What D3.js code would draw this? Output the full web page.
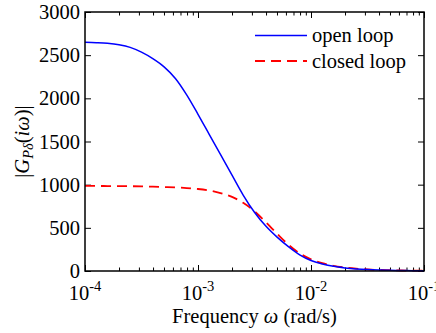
<!DOCTYPE html>
<html>
<head>
<meta charset="utf-8">
<script src="https://cdn.jsdelivr.net/npm/d3@7"></script>
<style>
  body { margin: 0; background: #fff; }
  text { font-family: "Liberation Serif", "Times New Roman", serif; fill: #000; }
</style>
</head>
<body>
<svg id="chart"></svg>
<script>
// frequency (rad/s)
const freq = [1.00e-4, 1.26e-4, 1.58e-4, 2.00e-4, 2.51e-4, 3.16e-4, 3.98e-4, 5.01e-4, 6.31e-4, 7.94e-4,
              1.00e-3, 1.26e-3, 1.58e-3, 2.00e-3, 2.51e-3, 3.16e-3, 3.98e-3, 5.01e-3, 6.31e-3, 7.94e-3,
              1.00e-2, 1.26e-2, 1.58e-2, 2.00e-2, 2.51e-2, 3.16e-2, 3.98e-2, 5.01e-2, 6.31e-2, 7.94e-2,
              1.00e-1]
const openLoop = [2650, 2645, 2637, 2620, 2590, 2535, 2460, 2365, 2230, 2040,
                  1815, 1580, 1350, 1110, 880, 680, 520, 392, 282, 188,
                  122, 82, 54, 36, 24, 16, 11, 8, 6, 4,
                  3]
const closedLoop = [985, 985, 984, 983, 982, 980, 977, 973, 968, 961,
                    950, 932, 903, 858, 790, 692, 566, 432, 305, 205,
                    135, 90, 60, 40, 27, 18, 12, 9, 6, 4,
                    3]

const xMajor = [1e-4, 1e-3, 1e-2, 1e-1]
const xExp = ["-4", "-3", "-2", "-1"]
const yTicks = [0, 500, 1000, 1500, 2000, 2500, 3000]
const seriesNames = ["open loop", "closed loop"]

const W = 436, H = 333
const mLeft = 85, mRight = 424, mTop = 12, mBottom = 271
const fs = 20.5

var svg = d3.select('#chart')
    .attr("width", W)
    .attr("height", H)

svg.append("rect").attr("width", W).attr("height", H).attr("fill", "#fff")

var x = d3.scaleLog().domain([1e-4, 1e-1]).range([mLeft, mRight])
var y = d3.scaleLinear().domain([0, 3000]).range([mBottom, mTop])

var xMinor = x.ticks().filter(t => !xMajor.some(m => Math.abs(m - t) / m < 1e-6))

// ticks, all pointing inward
function drawAxis(axis, tx, ty) {
    var g = svg.append("g").attr("transform", "translate(" + tx + "," + ty + ")").call(axis)
    g.select(".domain").remove()
    g.attr("font-family", null).attr("font-size", null)
    g.selectAll("line").attr("stroke", "#000").attr("stroke-width", 1)
    return g
}

drawAxis(d3.axisBottom(x).tickValues(xMinor).tickSize(-3.5).tickFormat(""), 0, mBottom)
drawAxis(d3.axisBottom(x).tickValues(xMajor).tickSize(-6).tickFormat(""), 0, mBottom)
drawAxis(d3.axisTop(x).tickValues(xMinor).tickSize(-3.5).tickFormat(""), 0, mTop)
drawAxis(d3.axisTop(x).tickValues(xMajor).tickSize(-6).tickFormat(""), 0, mTop)
drawAxis(d3.axisRight(y).tickValues(yTicks).tickSize(-6).tickFormat(""), mRight, 0)

var yAxisG = drawAxis(d3.axisLeft(y).tickValues(yTicks).tickSize(-6).tickPadding(5).tickFormat(d3.format("d")), mLeft, 0)
yAxisG.selectAll("text")
    .attr("font-size", fs)
    .attr("fill", "#000")

// x tick labels: 10^n
var xl = svg.append("g").selectAll("text")
    .data(xMajor)
    .enter()
    .append("text")
    .attr("x", (d) => x(d))
    .attr("y", 300)
    .attr("text-anchor", "middle")
    .attr("font-size", fs)
xl.append("tspan").text("10")
xl.append("tspan")
    .attr("dy", -9)
    .attr("font-size", 14.5)
    .text((d, i) => xExp[i])

// curves
var line = d3.line()
    .x((d) => x(d[0]))
    .y((d) => y(d[1]))
    .curve(d3.curveMonotoneX)

svg.append("path")
    .datum(d3.zip(freq, closedLoop))
    .attr("fill", "none")
    .attr("stroke", "#ff0000")
    .attr("stroke-width", 1.8)
    .attr("stroke-dasharray", "10,6")
    .attr("d", line)

svg.append("path")
    .datum(d3.zip(freq, openLoop))
    .attr("fill", "none")
    .attr("stroke", "#0000ff")
    .attr("stroke-width", 1.5)
    .attr("d", line)

// frame
svg.append("rect")
    .attr("x", mLeft).attr("y", mTop)
    .attr("width", mRight - mLeft).attr("height", mBottom - mTop)
    .attr("fill", "none")
    .attr("stroke", "#000")
    .attr("stroke-width", 1.5)

// legend
var legendStyles = [
    { color: "#0000ff", dash: null, width: 1.5 },
    { color: "#ff0000", dash: "10,6", width: 1.8 }
]
var lg = svg.append("g").selectAll("g")
    .data(seriesNames)
    .enter()
    .append("g")
    .attr("transform", (d, i) => "translate(0," + (35.5 + i * 25.5) + ")")
lg.append("line")
    .attr("x1", 255).attr("x2", 307)
    .attr("stroke", (d, i) => legendStyles[i].color)
    .attr("stroke-width", (d, i) => legendStyles[i].width)
    .attr("stroke-dasharray", (d, i) => legendStyles[i].dash)
lg.append("text")
    .attr("x", 312)
    .attr("y", 6.5)
    .attr("font-size", fs)
    .text((d) => d)

// axis titles
var xt = svg.append("text")
    .attr("x", (mLeft + mRight) / 2)
    .attr("y", 323)
    .attr("text-anchor", "middle")
    .attr("font-size", fs)
xt.append("tspan").text("Frequency ")
xt.append("tspan").attr("font-style", "italic").text("ω")
xt.append("tspan").text(" (rad/s)")

var yt = svg.append("text")
    .attr("transform", "translate(29," + ((mTop + mBottom) / 2) + ") rotate(-90)")
    .attr("text-anchor", "middle")
    .attr("font-size", fs)
yt.append("tspan").text("|")
yt.append("tspan").attr("font-style", "italic").text("G")
yt.append("tspan").attr("font-style", "italic").attr("font-size", 14.5).attr("dy", 4).text("Pδ")
yt.append("tspan").attr("dy", -4).text("(")
yt.append("tspan").attr("font-style", "italic").text("iω")
yt.append("tspan").text(")|")
</script>
</body>
</html>
